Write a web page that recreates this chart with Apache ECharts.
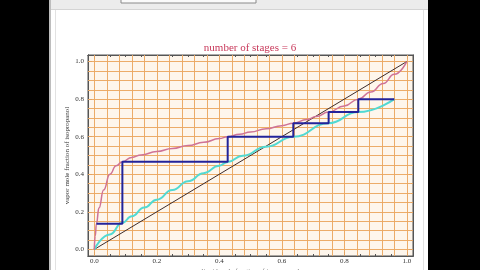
<!DOCTYPE html>
<html><head><meta charset="utf-8">
<script src="https://cdn.jsdelivr.net/npm/echarts@6/dist/echarts.min.js"></script>
<style>html,body{margin:0;padding:0;background:#000;}#c{width:480px;height:270px;}</style>
</head><body><div id="c"></div>
<script>
// equilibrium curve (liquid x, vapor y)
const eqX = [0, 0.003, 0.007, 0.015, 0.03, 0.05, 0.07, 0.09, 0.12, 0.15, 0.2, 0.25, 0.3, 0.35, 0.4, 0.427, 0.465, 0.5, 0.55, 0.6, 0.637, 0.68, 0.71, 0.75, 0.8, 0.845, 0.885, 0.925, 0.96, 1.0];
const eqY = [0, 0.07, 0.137, 0.22, 0.316, 0.40, 0.445, 0.467, 0.49, 0.503, 0.521, 0.537, 0.553, 0.57, 0.59, 0.60, 0.613, 0.625, 0.642, 0.659, 0.672, 0.692, 0.707, 0.731, 0.764, 0.80, 0.838, 0.883, 0.932, 1.0];
// operating curve
const opX = [0, 0.05, 0.09, 0.12, 0.16, 0.2, 0.25, 0.3, 0.35, 0.4, 0.427, 0.475, 0.55, 0.637, 0.75, 0.845, 0.96];
const opY = [0, 0.08, 0.142, 0.177, 0.223, 0.265, 0.316, 0.363, 0.406, 0.446, 0.466, 0.499, 0.547, 0.60, 0.672, 0.731, 0.80];
// stage staircase
const stepX = [0.007, 0.09, 0.09, 0.427, 0.427, 0.637, 0.637, 0.75, 0.75, 0.845, 0.845, 0.96];
const stepY = [0.137, 0.137, 0.467, 0.467, 0.60, 0.60, 0.672, 0.672, 0.731, 0.731, 0.80, 0.80];
// y = x diagonal
const diagX = [0, 1];
const diagY = [0, 1];
// ticks
const tickMajor = [0, 0.2, 0.4, 0.6, 0.8, 1.0];
const tickMinor = [0.05, 0.1, 0.15, 0.25, 0.3, 0.35, 0.45, 0.5, 0.55, 0.65, 0.7, 0.75, 0.85, 0.9, 0.95];
const gridXLines = [0, 0.04, 0.08, 0.12, 0.16, 0.2, 0.24, 0.28, 0.32, 0.36, 0.4, 0.44, 0.48, 0.52, 0.56, 0.6, 0.64, 0.68, 0.72, 0.76, 0.8, 0.84, 0.88, 0.92, 0.96, 1.0];
const gridYLines = [0, 0.05, 0.1, 0.15, 0.2, 0.25, 0.3, 0.35, 0.4, 0.45, 0.5, 0.55, 0.6, 0.65, 0.7, 0.75, 0.8, 0.85, 0.9, 0.95, 1.0];
const titleText = 'number of stages = 6';
const yName = 'vapor mole fraction of isopropanol';
const xName = 'liquid mole fraction of isopropanol';

const zip = (a, b) => a.map((v, i) => [v, b[i]]);
const serif = 'Liberation Serif';
const XMIN = -0.02, XMAX = 1.02, YMIN = -0.035, YMAX = 1.035;
const frameColor = '#555';

function xAx(pos, ticks, len, labels) {
  return {
    type: 'value', position: pos, min: XMIN, max: XMAX, gridIndex: 0,
    name: (labels ? xName : ''), nameLocation: 'middle', nameGap: 12, nameMoveOverlap: false,
    nameTextStyle: {fontFamily: serif, fontSize: 7, color: '#777'},
    axisLine: {show: true, onZero: false, lineStyle: {color: frameColor, width: 1}},
    axisTick: {show: true, inside: true, length: len, customValues: ticks, lineStyle: {color: frameColor, width: 1}},
    axisLabel: {show: labels, customValues: ticks, formatter: v => v.toFixed(1), fontFamily: serif, fontSize: 7, color: '#333', margin: 2},
    splitLine: {show: false}
  };
}
function yAx(pos, ticks, len, labels) {
  return {
    type: 'value', position: pos, min: YMIN, max: YMAX, gridIndex: 0,
    name: (labels ? yName : ''), nameLocation: 'middle', nameGap: 17, nameRotate: 90, nameMoveOverlap: false,
    nameTextStyle: {fontFamily: serif, fontSize: 7, color: '#333'},
    axisLine: {show: true, onZero: false, lineStyle: {color: frameColor, width: 1}},
    axisTick: {show: true, inside: true, length: len, customValues: ticks, lineStyle: {color: frameColor, width: 1}},
    axisLabel: {show: labels, customValues: ticks, formatter: v => v.toFixed(1), fontFamily: serif, fontSize: 7, color: '#333', margin: 4},
    splitLine: {show: false}
  };
}

const gridMarks = gridXLines.map(v => ({xAxis: v})).concat(gridYLines.map(v => ({yAxis: v})));

const chart = echarts.init(document.getElementById('c'), null, {renderer: 'canvas'});
chart.setOption({
  backgroundColor: '#000',
  animation: false,
  graphic: [
    {type: 'rect', z: -100, shape: {x: 50, y: 0, width: 378, height: 270}, style: {fill: '#ffffff'}},
    {type: 'rect', z: -99, shape: {x: 50, y: 0, width: 378, height: 9}, style: {fill: '#ececec'}},
    {type: 'rect', z: -98, shape: {x: 121, y: -1, width: 135, height: 4}, style: {fill: '#fafafa', stroke: '#8a8a8a', lineWidth: 1}},
    {type: 'line', z: -97, shape: {x1: 50, y1: 9.5, x2: 428, y2: 9.5}, style: {stroke: '#d4d4d4', lineWidth: 1}},
    {type: 'line', z: -97, shape: {x1: 55.5, y1: 10, x2: 55.5, y2: 270}, style: {stroke: '#e2e2e2', lineWidth: 1}},
    {type: 'line', z: -97, shape: {x1: 423.5, y1: 10, x2: 423.5, y2: 270}, style: {stroke: '#e2e2e2', lineWidth: 1}},
    {type: 'rect', z: -97, shape: {x: 49, y: 0, width: 2, height: 270}, style: {fill: '#bdbdbd'}}
  ],
  title: {
    text: titleText, left: 250, top: 43, textAlign: 'center', padding: 0,
    textStyle: {fontFamily: serif, fontSize: 11, fontWeight: 'normal', color: '#c8385a'}
  },
  grid: {left: 88, top: 55, width: 325, height: 201, show: true, backgroundColor: '#fef6ec', borderColor: frameColor, borderWidth: 1, containLabel: false, outerBoundsMode: 'none'},
  xAxis: [
    xAx('bottom', tickMajor, 4, true),
    xAx('bottom', tickMinor, 2, false),
    xAx('top', tickMajor, 4, false),
    xAx('top', tickMinor, 2, false)
  ],
  yAxis: [
    yAx('left', tickMajor, 4, true),
    yAx('left', tickMinor, 2, false),
    yAx('right', tickMajor, 4, false),
    yAx('right', tickMinor, 2, false)
  ],
  series: [
    {type: 'line', name: 'grid', data: [], z: 1, silent: true,
     markLine: {symbol: 'none', silent: true, animation: false, z: 1, label: {show: false},
       lineStyle: {color: '#eba862', width: 1, type: 'solid', opacity: 0.95}, data: gridMarks}},
    {type: 'line', name: 'y=x', data: zip(diagX, diagY), zlevel: 1, z: 3, showSymbol: false, symbol: 'none',
     lineStyle: {color: '#3d2b2b', width: 1}},
    {type: 'line', name: 'operating', data: zip(opX, opY), zlevel: 1, z: 4, symbol: 'none', smooth: true, smoothMonotone: 'x',
     lineStyle: {color: '#52d9d2', width: 2}},
    {type: 'line', name: 'equilibrium', data: zip(eqX, eqY), zlevel: 1, z: 5, symbol: 'none', smooth: true, smoothMonotone: 'x',
     lineStyle: {color: '#cf7396', width: 1.5}},
    {type: 'line', name: 'stages', data: zip(stepX, stepY), zlevel: 1, z: 6, symbol: 'none',
     lineStyle: {color: '#23239a', width: 2}}
  ]
});
</script></body></html>
